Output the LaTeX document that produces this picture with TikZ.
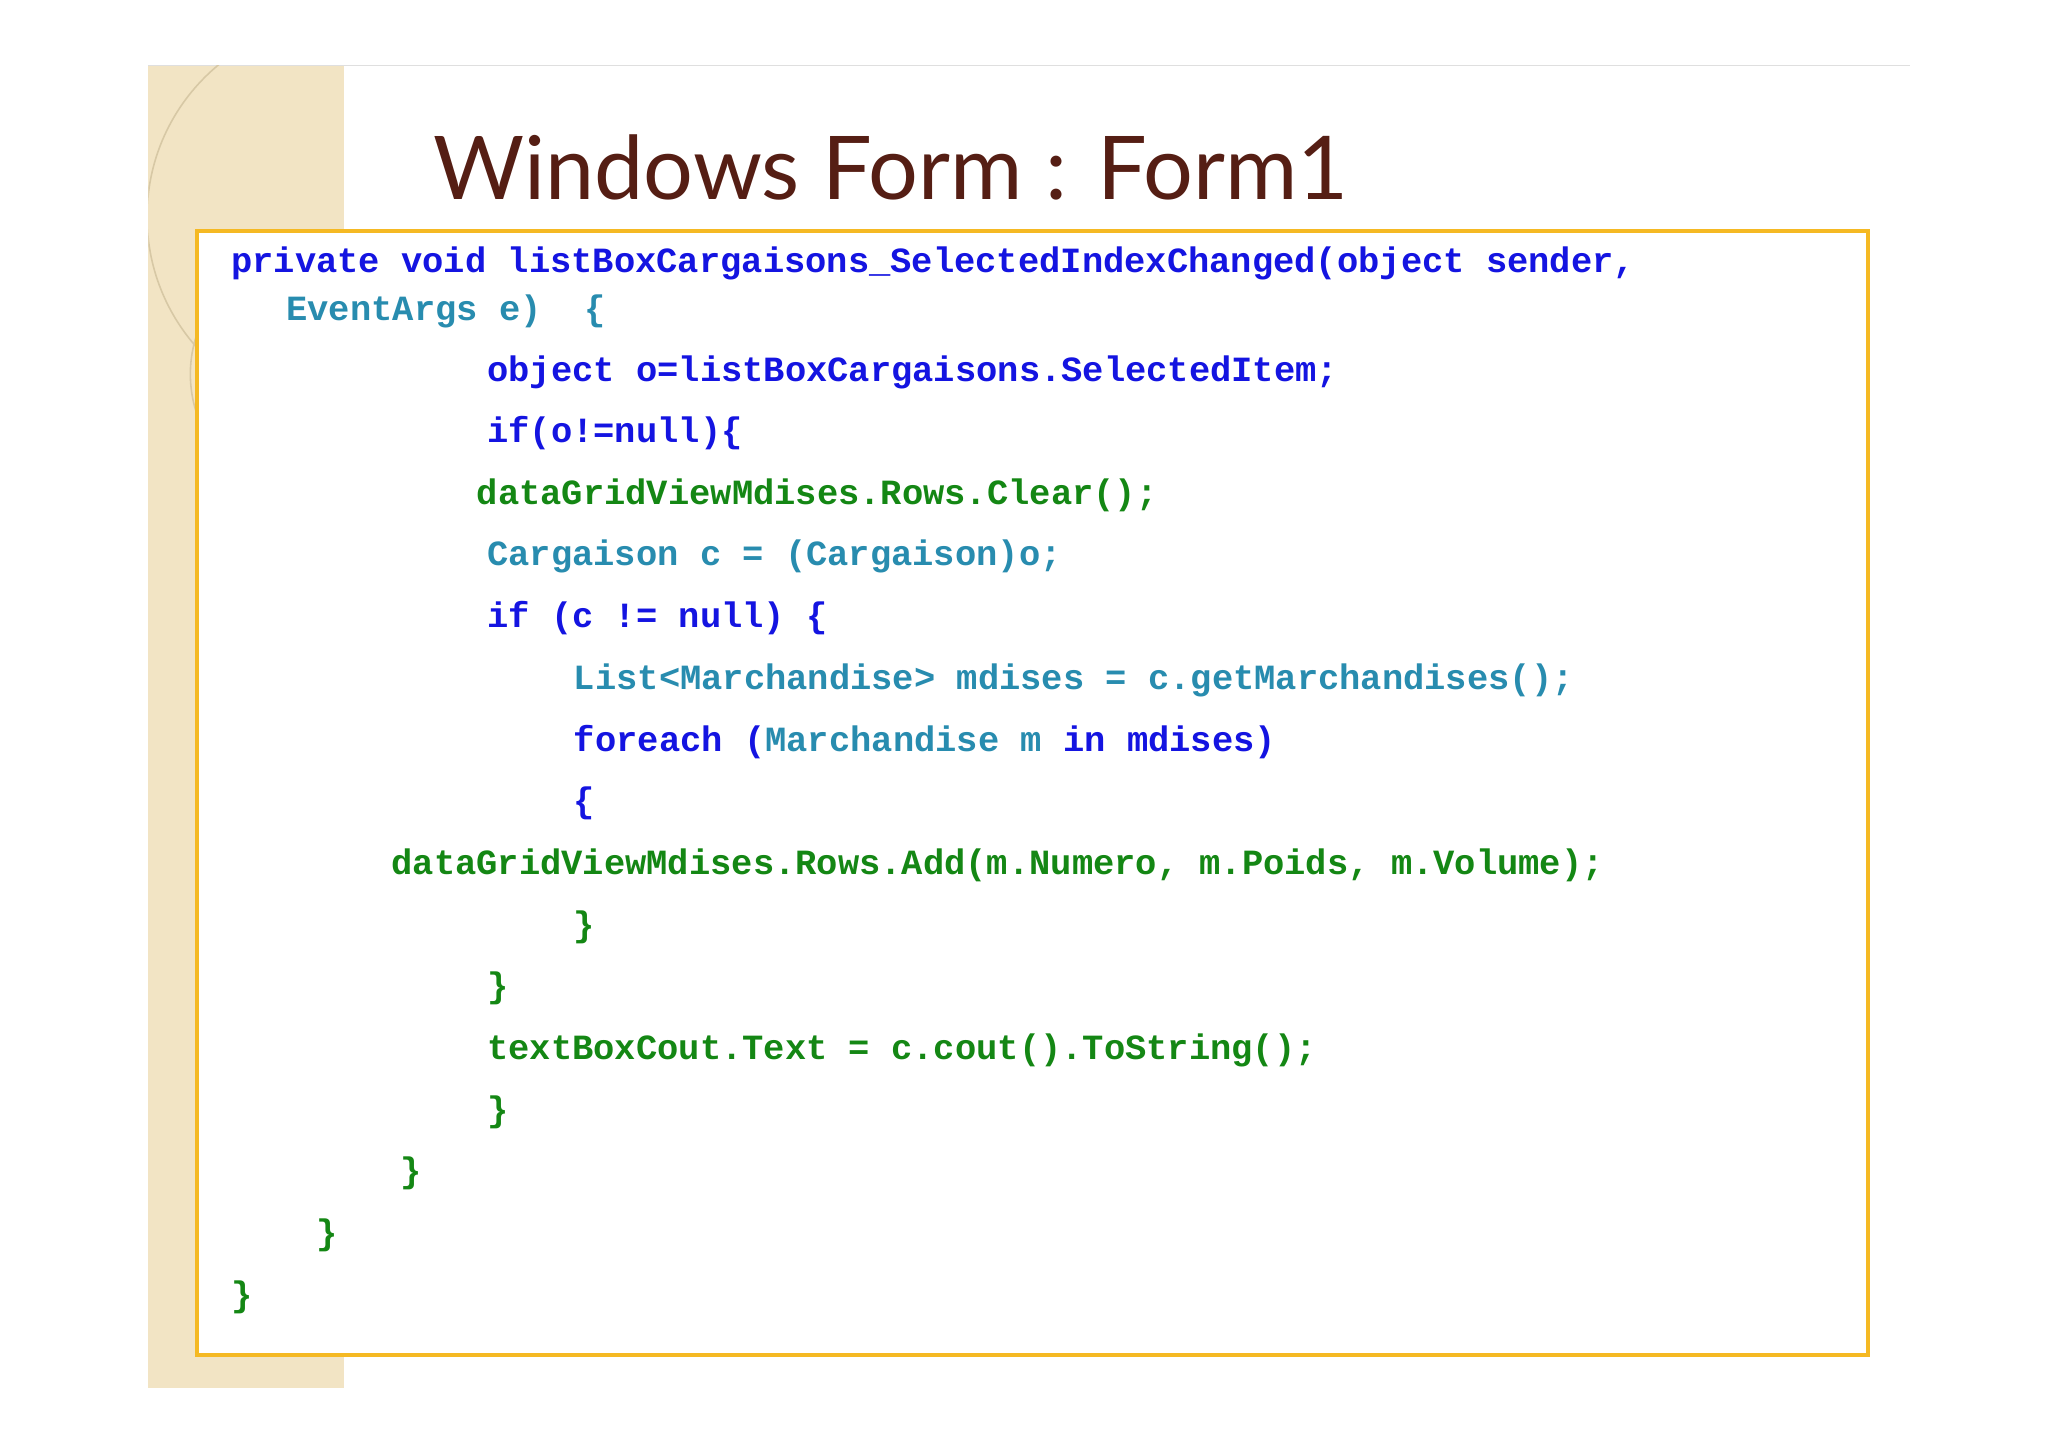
\documentclass[tikz,border=0pt]{standalone}
\usepackage{fontspec}
\setmonofont{Liberation Mono}
\newfontfamily\titlefont{Lato}
\begin{document}
\begin{tikzpicture}[x=1pt,y=-1pt,
  code/.style={anchor=west,inner sep=0pt,font=\ttfamily\bfseries\fontsize{27}{30}\selectfont},
  kw/.style={code,text=cblue},tl/.style={code,text=cteal},gr/.style={code,text=cgreen}]
\definecolor{cblue}{RGB}{20,20,225}
\definecolor{cteal}{RGB}{40,140,175}
\definecolor{cgreen}{RGB}{20,135,20}
\definecolor{beige}{RGB}{242,228,196}
\definecolor{brownt}{RGB}{85,30,20}
\definecolor{orangeb}{RGB}{245,185,35}
\definecolor{arcc}{RGB}{215,200,165}
\useasboundingbox (0,0) rectangle (1560,1102);
\fill[white] (0,0) rectangle (1560,1102);
\fill[beige] (113,50) rectangle (262,1057);
\draw[gray!25] (113,50) -- (1455,50);
\begin{scope}
\clip (113,50) rectangle (262,1057);
\draw[arcc,line width=1.2] (262,165) circle (150);
\draw[arcc,line width=1.2] (240,285) circle (95);
\end{scope}
\node[anchor=base west,inner sep=0,text=brownt,font=\titlefont\fontsize{67}{72}\selectfont] (title) at (330,152) {Windows Form : Form1};
\draw[orangeb,line width=3,fill=white] (150,176) rectangle (1423,1032);
\node[kw] (l1) at (176,201) {private void listBoxCargaisons\_SelectedIndexChanged(object sender,};
\node[tl] (l2) at (218,237) {EventArgs e)\ \ \{};
\node[kw] (l3) at (371,284) {object o=listBoxCargaisons.SelectedItem;};
\node[kw] (l4) at (371,330) {if(o!=null)\{};
\node[gr] (l5) at (363,377) {dataGridViewMdises.Rows.Clear();};
\node[tl] (l6) at (371,424) {Cargaison c = (Cargaison)o;};
\node[kw] (l7) at (371,471) {if (c != null) \{};
\node[tl] (l8) at (437,518) {List<Marchandise> mdises = c.getMarchandises();};
\node[code] (l9) at (437,565) {\textcolor{cblue}{foreach (}\textcolor{cteal}{Marchandise m}\textcolor{cblue}{\ in mdises)}};
\node[kw] (l10) at (437,612) {\{};
\node[gr] (l11) at (298,659) {dataGridViewMdises.Rows.Add(m.Numero, m.Poids, m.Volume);};
\node[gr] (l12) at (437,706) {\}};
\node[gr] (l13) at (371,753) {\}};
\node[gr] (l14) at (371,800) {textBoxCout.Text = c.cout().ToString();};
\node[gr] (l15) at (371,847) {\}};
\node[gr] (l16) at (305,894) {\}};
\node[gr] (l17) at (241,941) {\}};
\node[gr] (l18) at (176,988) {\}};
\end{tikzpicture}
\end{document}
